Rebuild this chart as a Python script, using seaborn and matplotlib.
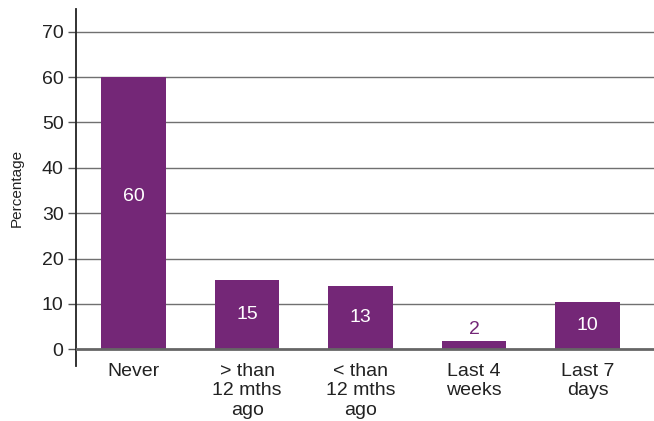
import numpy as np
import pandas as pd
import matplotlib
matplotlib.use('Agg')
import matplotlib.pyplot as plt
import seaborn as sns

# data
categories = ['Never', '> than\n12 mths\nago', '< than\n12 mths\nago', 'Last 4\nweeks', 'Last 7\ndays']
heights = [60, 15.2, 13.9, 1.8, 10.4]
labels = ['60', '15', '13', '2', '10']
yticks = [0, 10, 20, 30, 40, 50, 60, 70]

purple = '#742777'

sns.set_style('white')
plt.rcParams['font.family'] = ['Liberation Sans', 'DejaVu Sans']

df = pd.DataFrame({'cat': categories, 'pct': heights})

fig = plt.figure(figsize=(6.54, 4.21), dpi=100)
ax = fig.add_axes([0.1162, 0.1306, 0.884, 0.848])

sns.barplot(data=df, x='cat', y='pct', color=purple, saturation=1, width=0.57,
            linewidth=0, ax=ax, zorder=3)

# gridlines behind bars
for t in yticks[1:]:
    ax.axhline(t, color='#707070', lw=1.0, zorder=1)
ax.axhline(0, color='#666666', lw=2.0, zorder=4)

# value labels
for i, (h, lab) in enumerate(zip(heights, labels)):
    if h < 5:
        ax.text(i, h + 2.6, lab, ha='center', va='center', color=purple, fontsize=14)
    elif h > 40:
        ax.text(i, h * 0.56, lab, ha='center', va='center', color='white', fontsize=14)
    else:
        ax.text(i, h / 2, lab, ha='center', va='center', color='white', fontsize=14)

ax.set_ylim(-3.7, 75)
ax.set_xlim(-0.507, 4.586)
ax.set_yticks(yticks)
ax.set_yticklabels([str(t) for t in yticks], fontsize=14, color='#222222')
ax.tick_params(axis='y', length=6, width=1, color='#555555', pad=3, left=True)
ax.tick_params(axis='x', length=0, pad=-2, labelsize=14, labelcolor='#222222')
for lab in ax.get_xticklabels():
    lab.set_linespacing(1.17)
    lab.set_verticalalignment('top')

ax.set_xlabel('')
ax.set_ylabel('Percentage', fontsize=11, color='#222222', labelpad=13)

for s in ['top', 'right', 'bottom']:
    ax.spines[s].set_visible(False)
ax.spines['left'].set_color('#222222')
ax.spines['left'].set_linewidth(1.3)

fig.savefig('out.png', dpi=100)
